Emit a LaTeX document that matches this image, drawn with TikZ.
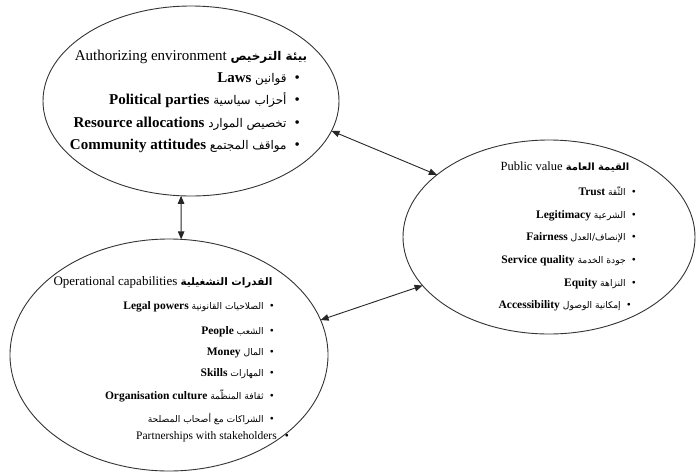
\documentclass[tikz,border=0pt]{standalone}
\usepackage{fontspec}
\setmainfont{Liberation Serif}
\newfontfamily\arabicfont[Script=Arabic,Scale=0.8]{DejaVu Sans}
\TeXXeTstate=1
\usetikzlibrary{shapes.geometric,arrows.meta}
\newcommand{\artext}[1]{{\arabicfont\beginR #1\endR}}
\newcommand{\fsz}[1]{\fontsize{#1}{#1}\selectfont}
\tikzset{
  ell/.style={draw=black!80, line width=0.9pt, ellipse, inner sep=0pt, outer sep=0pt},
  ttl/.style={anchor=mid, inner sep=0pt},
  itm/.style={anchor=mid east, inner sep=0pt},
  link/.style={draw=black!85, line width=0.9pt,
    {Triangle[length=8pt,width=6.5pt]}-{Triangle[length=8pt,width=6.5pt]}},
  bigtxt/.style={font=\fsz{15}},
  midtxt/.style={font=\fsz{12.5}},
  smalltxt/.style={font=\fsz{11.5}}
}
\begin{document}
\begin{tikzpicture}[x=1pt,y=-1pt]
\useasboundingbox (0,0) rectangle (696,472);
% ellipses
\node[ell, minimum width=296pt, minimum height=190pt] (auth) at (191,101) {};
\node[ell, minimum width=292pt, minimum height=194pt] (pub) at (549,237) {};
\node[ell, minimum width=318pt, minimum height=232pt] (ops) at (169,355) {};
% authorizing environment
\node[ttl, bigtxt] (a0) at (191,58) {Authorizing environment \artext{\bfseries بيئة الترخيص}};
\node[itm, bigtxt] (a1) at (300,80) {\textbf{Laws} \artext{قوانين}\hspace{8pt}•};
\node[itm, bigtxt] (a2) at (300,102) {\textbf{Political parties} \artext{أحزاب سياسية}\hspace{8pt}•};
\node[itm, bigtxt] (a3) at (300,125) {\textbf{Resource allocations} \artext{تخصيص الموارد}\hspace{8pt}•};
\node[itm, bigtxt] (a4) at (300,147) {\textbf{Community attitudes} \artext{مواقف المجتمع}\hspace{8pt}•};
% public value
\node[ttl, midtxt] (p0) at (565,168) {Public value \artext{\bfseries القيمة العامة}};
\node[itm, smalltxt] (p1) at (636,193) {\textbf{Trust} \artext{الثّقة}\hspace{6pt}•};
\node[itm, smalltxt] (p2) at (636,216) {\textbf{Legitimacy} \artext{الشرعية}\hspace{6pt}•};
\node[itm, smalltxt] (p3) at (636,238) {\textbf{Fairness} \artext{الإنصاف/العدل}\hspace{6pt}•};
\node[itm, smalltxt] (p4) at (636,261) {\textbf{Service quality} \artext{جودة الخدمة}\hspace{6pt}•};
\node[itm, smalltxt] (p5) at (636,284) {\textbf{Equity} \artext{النزاهة}\hspace{6pt}•};
\node[itm, smalltxt] (p6) at (631,306) {\textbf{Accessibility} \artext{إمكانية الوصول}\hspace{6pt}•};
% operational capabilities
\node[ttl, font=\fsz{13}] (o0) at (163,283) {Operational capabilities \artext{\bfseries القدرات التشغيلية}};
\node[itm, smalltxt] (o1) at (274,307) {\textbf{Legal powers} \artext{الصلاحيات القانونية}\hspace{6pt}•};
\node[itm, smalltxt] (o2) at (274,332) {\textbf{People} \artext{الشعب}\hspace{6pt}•};
\node[itm, smalltxt] (o3) at (274,353) {\textbf{Money} \artext{المال}\hspace{6pt}•};
\node[itm, smalltxt] (o4) at (274,374) {\textbf{Skills} \artext{المهارات}\hspace{6pt}•};
\node[itm, smalltxt] (o5) at (274,397) {\textbf{Organisation culture} \artext{ثقافة المنظّمة}\hspace{6pt}•};
\node[itm, smalltxt] (o6) at (274,420) {\artext{الشراكات مع أصحاب المصلحة}\hspace{6pt}•};
\node[itm, smalltxt] (o7) at (289,437) {Partnerships with stakeholders\hspace{8pt}•};
% connectors
\draw[link] (auth.-12) -- (pub.151);
\draw[link] (auth.-96) -- (ops.84);
\draw[link] (ops.13) -- (pub.201);
\end{tikzpicture}
\end{document}
